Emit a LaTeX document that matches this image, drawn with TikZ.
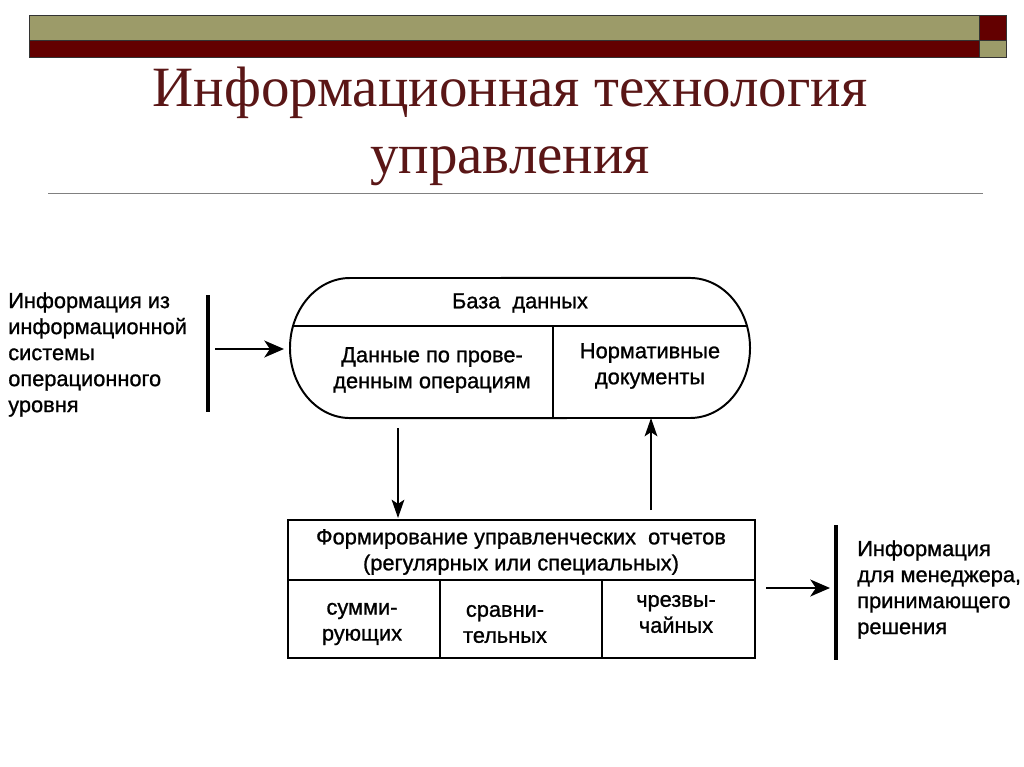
\documentclass[tikz,border=0pt]{standalone}
\usepackage{fontspec}
\setmainfont{Liberation Serif}
\newfontfamily\diag[FakeBold=1]{Liberation Sans}
\usetikzlibrary{arrows.meta}
\definecolor{barolive}{HTML}{9C9B69}
\definecolor{bardark}{HTML}{630000}
\definecolor{titlered}{HTML}{5A1616}
\begin{document}
\begin{tikzpicture}[x=0.025cm,y=-0.025cm,
  ln/.style={line width=1.4pt},
  txt/.style={font=\diag\fontsize{15.5}{18.5}\selectfont, align=center, inner sep=0pt},
  arr/.style={line width=1.8pt,-{Stealth[length=14pt,width=12pt,inset=4pt]}},
  varr/.style={line width=1.6pt,-{Stealth[length=13pt,width=9pt,inset=3pt]}},
  vbar/.style={line width=2.3pt}]
\useasboundingbox (0,0) rectangle (1024,767);
% top bars
\fill[barolive] (29,15) rectangle (979,40);
\fill[bardark] (29,40) rectangle (979,57);
\fill[bardark] (979,15) rectangle (1006,40);
\fill[barolive] (979,40) rectangle (1006,57);
\draw[black!80, line width=0.5pt] (29,15) rectangle (1006,57) (29,40) -- (1006,40) (979,15) -- (979,57);
% title
\node[font=\fontsize{40.5}{47.5}\selectfont, text=titlered, align=center, inner sep=0pt] (title) at (510,126) {Информационная технология\\управления};
\draw[gray, line width=0.6pt] (48,193) -- (983,193);

% left input
\node[txt, align=left, anchor=north west] (inp) at (8,292) {Информация из\\информационной\\системы\\операционного\\уровня};
\coordinate (lb1) at (208,295);
\coordinate (lb2) at (208,412);
\draw[vbar] (lb1) -- (lb2);
\coordinate (a1s) at (215,349);
\coordinate (a1e) at (284,349);
\draw[arr] (a1s) -- (a1e);

% database
\draw[ln] (350,278) arc[start angle=90,end angle=270,x radius=1.5cm,y radius=1.75cm]
  -- (690,418) arc[start angle=-90,end angle=90,x radius=1.5cm,y radius=1.75cm] -- cycle;
\draw[ln] (293,326) -- (747,326);
\draw[ln] (553,326) -- (553,418);
\node[txt] (db) at (520,303) {База\ \ данных};
\node[txt] (dbops) at (432,370) {Данные по прове-\\денным операциям};
\node[txt] (dbnorm) at (650,366) {Нормативные\\документы};
\coordinate (dbout) at (398,428);
\coordinate (dbin) at (651,418);

% reports box
\draw[ln] (288,520) rectangle (755,658);
\draw[ln] (288,580) -- (755,580);
\draw[ln] (440,580) -- (440,658);
\draw[ln] (602,580) -- (602,658);
\node[txt] (rep) at (521,552) {Формирование управленческих\ \ отчетов\\(регулярных или специальных)};
\node[txt] (sum) at (362,624) {сумми-\\рующих};
\node[txt] (cmp) at (505,624) {сравни-\\тельных};
\node[txt] (emg) at (676,614) {чрезвы-\\чайных};
\coordinate (repin) at (398,518);
\coordinate (repout) at (651,510);
\draw[varr] (dbout) -- (repin);
\draw[varr] (repout) -- (dbin);

% output
\coordinate (a2s) at (766,588);
\coordinate (a2e) at (830,588);
\draw[arr] (a2s) -- (a2e);
\coordinate (rb1) at (836,525);
\coordinate (rb2) at (836,660);
\draw[vbar] (rb1) -- (rb2);
\node[txt, align=left, anchor=north west] (outp) at (857,540) {Информация\\для менеджера,\\принимающего\\решения};
\end{tikzpicture}
\end{document}
